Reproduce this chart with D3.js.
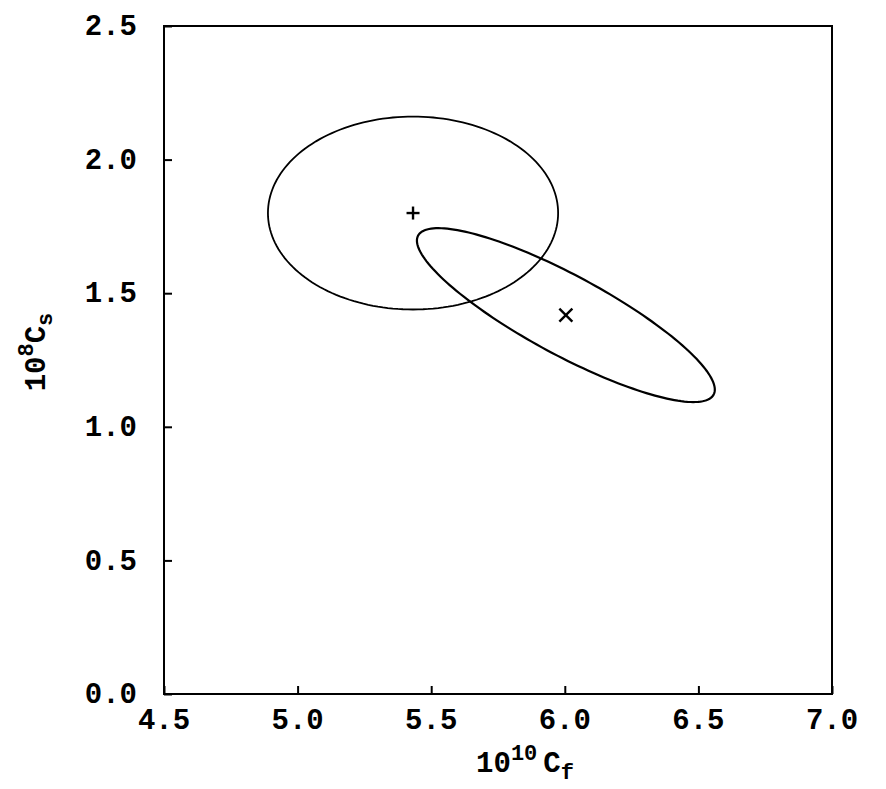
<!DOCTYPE html>
<html>
<head>
<meta charset="utf-8">
<script src="https://cdn.jsdelivr.net/npm/d3@7"></script>
<style>
  body { margin: 0; background: #fff; }
  text { font-family: "Liberation Mono", "Courier New", monospace; font-weight: bold; fill: #000; }
</style>
</head>
<body>
<svg id="chart"></svg>
<script>
// DATA

const xTicks = [4.5, 5.0, 5.5, 6.0, 6.5, 7.0];
const yTicks = [0.0, 0.5, 1.0, 1.5, 2.0, 2.5];

// confidence ellipses: centre, semi axes (data units), tilt in degrees
const ellipseCx = [5.432, 6.004];
const ellipseCy = [1.800, 1.418];
const ellipseRx = [0.543, 0.628];
const ellipseRy = [0.361, 0.149];
const ellipseAngle = [0, -28.3];

// best fit points
const pointX = [5.432, 6.004];
const pointY = [1.800, 1.418];
const pointSymbol = ["plus", "cross"];

const width = 886;
const height = 789;
const margin = { left: 164, right: 54, top: 26, bottom: 95 };

const svg = d3.select("#chart")
  .attr("width", width)
  .attr("height", height);

const x = d3.scaleLinear()
  .domain([4.5, 7.0])
  .range([margin.left, width - margin.right]);

const y = d3.scaleLinear()
  .domain([0, 2.5])
  .range([height - margin.bottom, margin.top]);

// AXES (ticks point inward)

svg.append("g")
  .attr("transform", `translate(0,${y(0)})`)
  .call(d3.axisTop(x).tickValues(xTicks).tickSize(8).tickFormat(""))
  .call(g => g.select(".domain").remove())
  .call(g => g.selectAll("line").attr("stroke-width", 2));

svg.append("g")
  .attr("transform", `translate(${x(4.5)},0)`)
  .call(d3.axisRight(y).tickValues(yTicks).tickSize(8).tickFormat(""))
  .call(g => g.select(".domain").remove())
  .call(g => g.selectAll("line").attr("stroke-width", 2));

// tick labels

svg.append("g")
  .selectAll("text")
  .data(xTicks)
  .enter()
  .append("text")
  .attr("x", d => x(d))
  .attr("y", 729)
  .attr("text-anchor", "middle")
  .attr("font-size", "29px")
  .text(d => d.toFixed(1));

svg.append("g")
  .selectAll("text")
  .data(yTicks)
  .enter()
  .append("text")
  .attr("x", 137)
  .attr("y", d => y(d))
  .attr("dy", "0.32em")
  .attr("text-anchor", "end")
  .attr("font-size", "29px")
  .text(d => d.toFixed(1));

// FRAME

svg.append("rect")
  .attr("x", x(4.5))
  .attr("y", y(2.5))
  .attr("width", x(7.0) - x(4.5))
  .attr("height", y(0) - y(2.5))
  .attr("fill", "none")
  .attr("stroke", "#000")
  .attr("stroke-width", 2);

// ELLIPSES

const line = d3.line()
  .x(p => x(p[0]))
  .y(p => y(p[1]))
  .curve(d3.curveLinearClosed);

ellipseCx.forEach((cx, i) => {

  const a = ellipseAngle[i] * Math.PI / 180;
  const pts = d3.range(0, 360, 2).map(t => {
    const r = t * Math.PI / 180;
    const ex = ellipseRx[i] * Math.cos(r);
    const ey = ellipseRy[i] * Math.sin(r);
    return [
      cx + ex * Math.cos(a) - ey * Math.sin(a),
      ellipseCy[i] + ex * Math.sin(a) + ey * Math.cos(a)
    ];
  });

  svg.append("path")
    .attr("d", line(pts))
    .attr("fill", "none")
    .attr("stroke", "#000")
    .attr("stroke-width", i === 0 ? 1.8 : 2.2);

});

// MARKERS

pointX.forEach((px, i) => {

  const cx = x(px), cy = y(pointY[i]);
  const h = 6.5;

  const g = svg.append("g")
    .attr("stroke", "#000")
    .attr("stroke-width", 2.4);

  if (pointSymbol[i] === "plus") {
    g.append("line").attr("x1", cx - h).attr("x2", cx + h).attr("y1", cy).attr("y2", cy);
    g.append("line").attr("x1", cx).attr("x2", cx).attr("y1", cy - h).attr("y2", cy + h);
  } else {
    g.append("line").attr("x1", cx - h).attr("x2", cx + h).attr("y1", cy - h).attr("y2", cy + h);
    g.append("line").attr("x1", cx - h).attr("x2", cx + h).attr("y1", cy + h).attr("y2", cy - h);
  }

});

// AXIS TITLES

const xt = svg.append("text")
  .attr("x", 525)
  .attr("y", 772)
  .attr("text-anchor", "middle")
  .attr("font-size", "29px");
xt.append("tspan").text("10");
xt.append("tspan").attr("font-size", "22px").attr("dy", -12).text("10");
xt.append("tspan").attr("dy", 12).attr("dx", 6).text("C");
xt.append("tspan").attr("font-size", "22px").attr("dy", 7).text("f");

const yt = svg.append("text")
  .attr("transform", "translate(45,352) rotate(-90)")
  .attr("text-anchor", "middle")
  .attr("font-size", "29px");
yt.append("tspan").text("10");
yt.append("tspan").attr("font-size", "22px").attr("dy", -12).text("8");
yt.append("tspan").attr("dy", 12).text("C");
yt.append("tspan").attr("font-size", "22px").attr("dy", 7).text("s");
</script>
</body>
</html>
